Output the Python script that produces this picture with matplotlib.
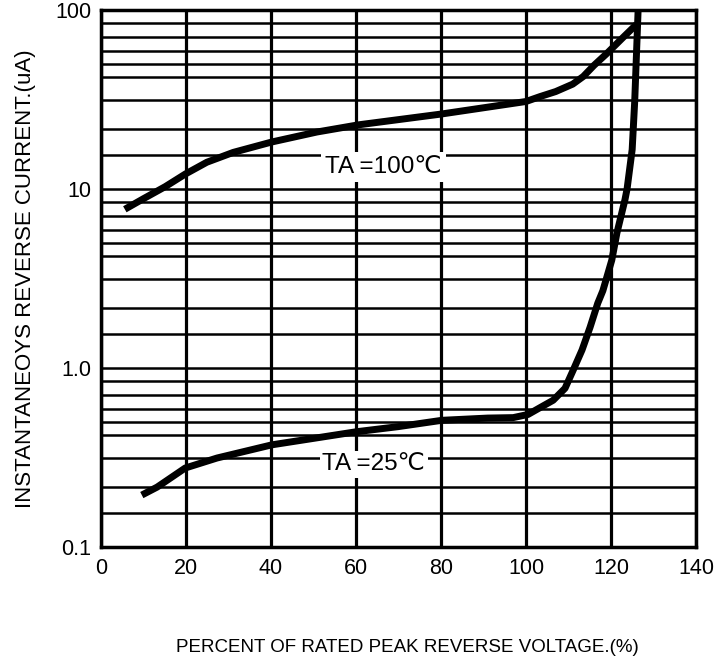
import matplotlib
matplotlib.use('Agg')
import matplotlib.pyplot as plt

# curves
x_100 = [5.6, 9.9, 15.1, 19.8, 24.9, 31.1, 40.2, 50.8, 60.5, 80.0, 100.0, 103.3, 107.0, 111.0,
         113.5, 116.0, 119.0, 122.8, 126.0]
y_100 = [7.7, 8.8, 10.3, 12.1, 14.1, 16.0, 18.3, 20.8, 22.8, 26.2, 30.8, 32.8, 35.0, 38.5,
         42.5, 49.0, 57.0, 70.0, 83.0]

x_25 = [9.6, 13.2, 19.8, 27.3, 40.2, 60.0, 69.9, 80.2, 91.0, 97.0, 100.5, 103.3, 106.4, 109.2,
        111.1, 113.2, 115.1, 116.9, 118.1, 120.2, 121.4, 123.3, 123.8, 125.0, 125.6, 126.4]
y_25 = [0.195, 0.216, 0.276, 0.314, 0.372, 0.44, 0.47, 0.51, 0.525, 0.528, 0.55, 0.60, 0.66, 0.77,
        0.97, 1.26, 1.69, 2.3, 2.7, 4.0, 5.66, 8.7, 10.0, 16.6, 31.0, 100.0]

label_100 = "TA =100\u2103"
label_25 = "TA =25\u2103"

# odd grid of the original chart (multipliers inside each decade)
grid_mult = [1.55, 2.15, 3.15, 4.2, 5.0, 5.9, 7.05, 8.45]
decades = [0.1, 1.0, 10.0]
y_ticks = [0.1, 1.0, 10, 100]
y_ticklabels = ['0.1', '1.0', '10', '100']
x_ticks = [0, 20, 40, 60, 80, 100, 120, 140]

font = ['Liberation Sans Narrow', 'Liberation Sans', 'DejaVu Sans']

fig = plt.figure(figsize=(7.15, 6.63), dpi=100)
ax = fig.add_axes([0.1413, 0.175, 0.832, 0.81])

ax.set_yscale('log')
ax.set_xlim(0, 140)
ax.set_ylim(0.1, 100)

minor = [d * m for d in decades for m in grid_mult]
ax.set_yticks(y_ticks)
ax.set_yticklabels(y_ticklabels, family=font, fontsize=15.5)
ax.set_yticks(minor, minor=True)
ax.yaxis.set_minor_formatter(matplotlib.ticker.NullFormatter())
ax.set_xticks(x_ticks)
ax.set_xticklabels([str(v) for v in x_ticks], family=font, fontsize=15.5)
ax.tick_params(which='both', length=0)
ax.tick_params(axis='x', pad=8)
ax.tick_params(axis='y', pad=7)

ax.grid(True, axis='x', color='black', linewidth=2.3)
ax.grid(True, axis='y', which='both', color='black', linewidth=1.8)
for s in ax.spines.values():
    s.set_linewidth(2.5)

ax.plot(x_100, y_100, color='black', linewidth=5, solid_capstyle='butt', solid_joinstyle='round')
ax.plot(x_25, y_25, color='black', linewidth=5, solid_capstyle='butt', solid_joinstyle='round')

ax.text(66.4, 13.3, label_100, ha='center', va='center', fontsize=17.5, family=font,
        bbox=dict(facecolor='white', edgecolor='none', pad=3))
ax.text(64.2, 0.29, label_25, ha='center', va='center', fontsize=17.5, family=font,
        bbox=dict(facecolor='white', edgecolor='none', pad=2))

ax.set_ylabel('INSTANTANEOYS REVERSE CURRENT.(uA)', family=font, fontsize=16, labelpad=14)
fig.text(407 / 715, 1 - 648 / 663, 'PERCENT OF RATED PEAK REVERSE VOLTAGE.(%)',
         ha='center', va='center', fontsize=13.5, family=['Liberation Sans', 'DejaVu Sans'])

fig.savefig('out.png', dpi=100)
